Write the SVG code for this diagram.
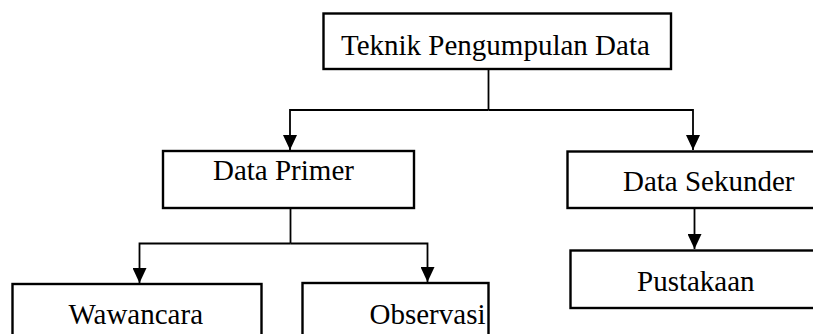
<svg xmlns="http://www.w3.org/2000/svg" width="813" height="334" viewBox="0 0 813 334">
<defs>
<style>
.box{fill:#fff;stroke:#000;stroke-width:2.4}
.lbl{font-family:"Liberation Serif","Times New Roman",serif;font-size:29px;fill:#000}
.con{fill:none;stroke:#000;stroke-width:1.8}
</style>
<marker id="ah" markerUnits="userSpaceOnUse" viewBox="0 0 15 14" refX="15" refY="7" markerWidth="15" markerHeight="14" orient="auto">
<path d="M0,0 L15,7 L0,14 z" fill="#000"/>
</marker>
</defs>
<rect width="813" height="334" fill="#fff"/>
<g id="connectors">
<path class="con" d="M488.5,70 V110"/>
<path class="con" d="M488.5,110 H290 V150" marker-end="url(#ah)"/>
<path class="con" d="M488.5,110 H693 V150" marker-end="url(#ah)"/>
<path class="con" d="M290.5,208 V243.5"/>
<path class="con" d="M290.5,243.5 H139.5 V283" marker-end="url(#ah)"/>
<path class="con" d="M290.5,243.5 H427.5 V282" marker-end="url(#ah)"/>
<path class="con" d="M694.5,208 V249" marker-end="url(#ah)"/>
</g>
<g id="n-teknik">
<rect class="box" x="323.5" y="13.5" width="347.5" height="55.5"/>
<text class="lbl" x="341" y="54.5">Teknik Pengumpulan Data</text>
</g>
<g id="n-primer">
<rect class="box" x="163" y="151" width="251" height="57"/>
<text class="lbl" x="213" y="180">Data Primer</text>
</g>
<g id="n-sekunder">
<rect class="box" x="567.5" y="151.5" width="260" height="56.5"/>
<text class="lbl" x="623" y="191">Data Sekunder</text>
</g>
<g id="n-pustakaan">
<rect class="box" x="570.5" y="250.5" width="260" height="57.5"/>
<text class="lbl" x="637" y="291">Pustakaan</text>
</g>
<g id="n-wawancara">
<rect class="box" x="12.5" y="284" width="249" height="60"/>
<text class="lbl" x="68.5" y="324">Wawancara</text>
</g>
<g id="n-observasi">
<rect class="box" x="302.5" y="283" width="186" height="60"/>
<text class="lbl" x="369.5" y="324">Observasi</text>
</g>
</svg>
